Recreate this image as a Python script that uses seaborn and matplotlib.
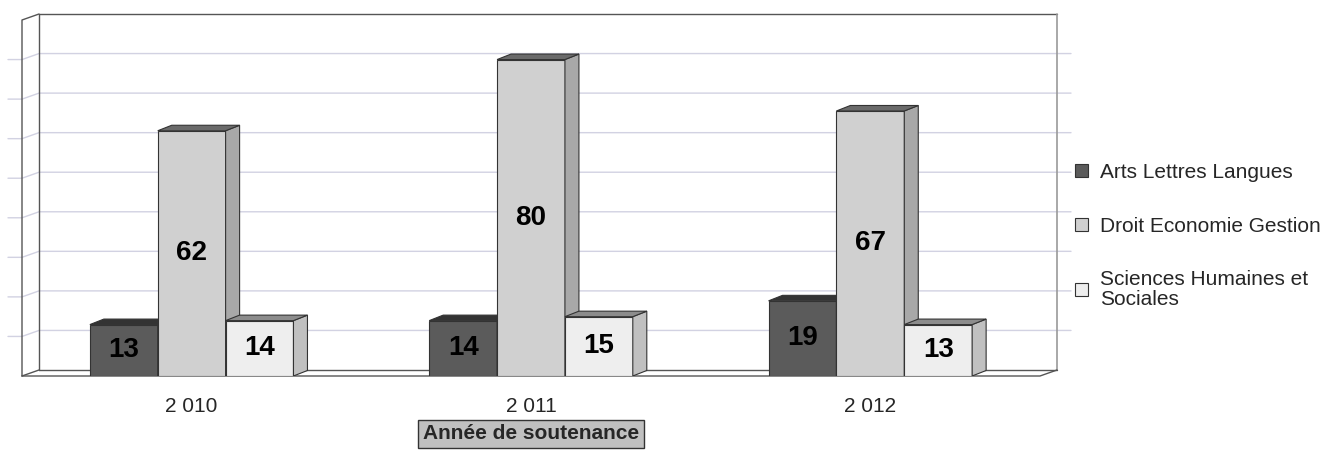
import pandas as pd
import numpy as np
import matplotlib.pyplot as plt
from matplotlib.patches import Polygon
import seaborn as sns

sns.set_style('white')
plt.rcParams['font.family'] = ['Liberation Sans', 'DejaVu Sans']

# data
annees = ['2 010', '2 011', '2 012']
disciplines = ['Arts Lettres Langues', 'Droit Economie Gestion', 'Sciences Humaines et\nSociales']
arts = [13, 14, 19]
droit = [62, 80, 67]
shs = [14, 15, 13]

# face colours (front, side, top) per discipline
col_front = ['#5b5b5b', '#d0d0d0', '#eeeeee']
col_side = ['#454545', '#a8a8a8', '#c0c0c0']
col_top = ['#333333', '#6a6a6a', '#8c8c8c']

df = pd.DataFrame({
    'Annee': annees * 3,
    'Discipline': np.repeat(disciplines, 3),
    'Nombre': arts + droit + shs,
})

fig = plt.figure(figsize=(13.25, 4.5), dpi=100)
ax = fig.add_axes([22/1325, 74/450, 1018/1325, 356/450])

sns.barplot(data=df, x='Annee', y='Nombre', hue='Discipline', hue_order=disciplines,
            palette=col_front, width=0.6, edgecolor='#333333', linewidth=0.8,
            saturation=1, ax=ax)

ymax = 90
ax.set_xlim(-0.5, 2.5)
ax.set_ylim(0, ymax)
for s in ax.spines.values():
    s.set_visible(False)
ax.set_yticks([])
ax.set_ylabel('')

# 3D offsets in data units
dx = 17 / 339.33
dy = 6 * ymax / 356
bdx = 14 / 339.33
bdy = 5.5 * ymax / 356
tk = 14 / 339.33

# grid on back wall + left wall
for v in range(10, 90, 10):
    ax.plot([-0.5 - tk, -0.5, -0.5 + dx, 2.5 + dx, 2.5 + dx + tk],
            [v, v, v + dy, v + dy, v + dy],
            color='#d2d2e2', lw=1, clip_on=False, zorder=1)

wall = dict(color='#555555', lw=1, clip_on=False, zorder=1.5)
ax.plot([-0.5 + dx, 2.5 + dx], [ymax + dy, ymax + dy], **wall)
ax.plot([-0.5 + dx, -0.5 + dx], [dy, ymax + dy], **wall)
ax.plot([2.5 + dx, 2.5 + dx], [dy, ymax + dy], color='#999999', lw=1.2, clip_on=False, zorder=1.5)
ax.plot([-0.5, -0.5, -0.5 + dx], [0, ymax, ymax + dy], **wall)
ax.plot([-0.5 + dx, 2.5 + dx], [dy, dy], **wall)
ax.plot([-0.5, -0.5 + dx], [0, dy], **wall)
ax.plot([-0.5, 2.5, 2.5 + dx], [0, 0, dy], **wall)

# side and top faces of the bars
for i, cont in enumerate(ax.containers):
    for bar in cont:
        x0 = bar.get_x()
        w = bar.get_width()
        h = bar.get_height()
        bar.set_zorder(3 + i)
        side = Polygon([(x0 + w, 0), (x0 + w + bdx, bdy), (x0 + w + bdx, h + bdy), (x0 + w, h)],
                       closed=True, fc=col_side[i], ec='#333333', lw=0.8, zorder=3 + i)
        top = Polygon([(x0, h), (x0 + w, h), (x0 + w + bdx, h + bdy), (x0 + bdx, h + bdy)],
                      closed=True, fc=col_top[i], ec='#333333', lw=0.8, zorder=3 + i)
        ax.add_patch(side)
        ax.add_patch(top)
    labels = ax.bar_label(cont, label_type='center', fontsize=20, fontweight='bold', color='black')
    for t in labels:
        t.set_zorder(10)

ax.tick_params(axis='x', length=0, pad=15, labelsize=15)
ax.set_xlabel('Année de soutenance', fontsize=15, fontweight='bold', labelpad=6,
              bbox=dict(boxstyle='square,pad=0.22', fc='#c0c0c0', ec='#333333', lw=1))

sns.move_legend(ax, loc='center left', bbox_to_anchor=(1065/1325, 0.475),
                bbox_transform=fig.transFigure, frameon=False, title=None, fontsize=15,
                handlelength=0.6, handleheight=0.6, handletextpad=0.6, labelspacing=1.65,
                borderpad=0)
leg = ax.get_legend()
for h in leg.legend_handles:
    h.set_edgecolor('#333333')
    h.set_linewidth(0.8)
for t in leg.get_texts():
    t.set_linespacing(1.1)

fig.savefig('out.png', dpi=100)
